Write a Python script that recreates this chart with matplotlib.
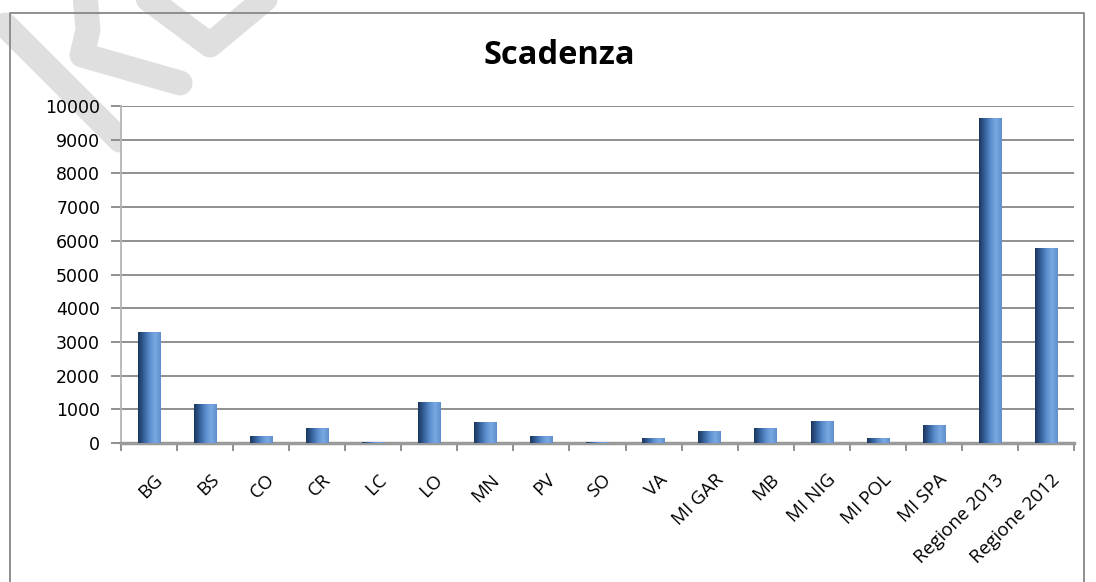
import numpy as np
import matplotlib
matplotlib.use("Agg")
import matplotlib.pyplot as plt
from matplotlib.colors import LinearSegmentedColormap
from matplotlib.lines import Line2D

categories = ["BG", "BS", "CO", "CR", "LC", "LO", "MN", "PV", "SO", "VA",
              "MI GAR", "MB", "MI NIG", "MI POL", "MI SPA",
              "Regione 2013", "Regione 2012"]
values = [3300, 1150, 210, 440, 30, 1220, 615, 205, 30, 140,
          365, 445, 645, 150, 535, 9630, 5795]
yticks = list(range(0, 10001, 1000))

W, H = 1096, 582
plt.rcParams["font.family"] = ["Open Sans", "DejaVu Sans"]

fig = plt.figure(figsize=(W / 100, H / 100), dpi=100)
ax = fig.add_axes([121 / W, 1 - 443 / H, (1074 - 121) / W, (443 - 106) / H])


def px(x, y):
    return x / W, 1 - y / H


# outer chart frame (open at the bottom)
frame = [(10, 590), (10, 13), (1084, 13), (1084, 590)]
fig.add_artist(Line2D([px(*p)[0] for p in frame], [px(*p)[1] for p in frame],
                      color="#878787", lw=1.3, transform=fig.transFigure))

x = np.arange(len(categories))
bars = ax.bar(x, values, width=0.4, color="#4f81bd", zorder=3)

# cylinder-like shading for each bar
shade = LinearSegmentedColormap.from_list(
    "shade", ["#1c365c", "#35609a", "#5a8ccb", "#79a8e2", "#5f8fcc"])
grad = np.linspace(0, 1, 64).reshape(1, -1)
for b in bars:
    x0, w, h = b.get_x(), b.get_width(), b.get_height()
    im = ax.imshow(grad, cmap=shade, aspect="auto",
                   extent=[x0, x0 + w, 0, h], zorder=4)
    im.set_clip_path(b)

ax.set_xlim(-0.5, len(categories) - 0.5)
ax.set_ylim(0, 10000)
ax.set_yticks(yticks)
ax.set_yticklabels([str(t) for t in yticks], fontsize=12.5,
                   family="DejaVu Sans")
ax.set_xticks(x + 0.08)
ax.set_xticklabels(categories, rotation=45, ha="right", va="top",
                   rotation_mode="anchor", fontsize=13.5)
ax.tick_params(axis="x", length=0, pad=20)
ax.set_xticks(np.arange(len(categories) + 1) - 0.5, minor=True)
ax.tick_params(axis="x", which="minor", length=6, color="#878787", width=1.3)
ax.tick_params(axis="y", length=7, color="#878787", width=1.3, pad=8)

ax.grid(axis="y", color="#878787", lw=1.3, zorder=1)
for s in ["top", "right"]:
    ax.spines[s].set_visible(False)
ax.spines["left"].set_color("#b4b4b4")
ax.spines["left"].set_linewidth(1.3)
ax.spines["bottom"].set_color("#9a9a9a")
ax.spines["bottom"].set_linewidth(2.5)

fig.text(559 / W, 1 - 55 / H, "Scadenza", ha="center", va="center",
         fontsize=23.5, fontweight="bold")

# faint watermark strokes in the top-left corner
strokes = [
    [(5, 25), (120, 140)],
    [(85, -5), (88, 30), (82, 55), (180, 83)],
    [(143, -5), (210, 45), (270, -5)],
]
for st in strokes:
    fig.add_artist(Line2D([px(*p)[0] for p in st], [px(*p)[1] for p in st],
                          color="#dcdcdc", lw=18, alpha=0.9,
                          solid_capstyle="round", solid_joinstyle="round",
                          transform=fig.transFigure, zorder=0))

fig.savefig("out.png", dpi=100)
